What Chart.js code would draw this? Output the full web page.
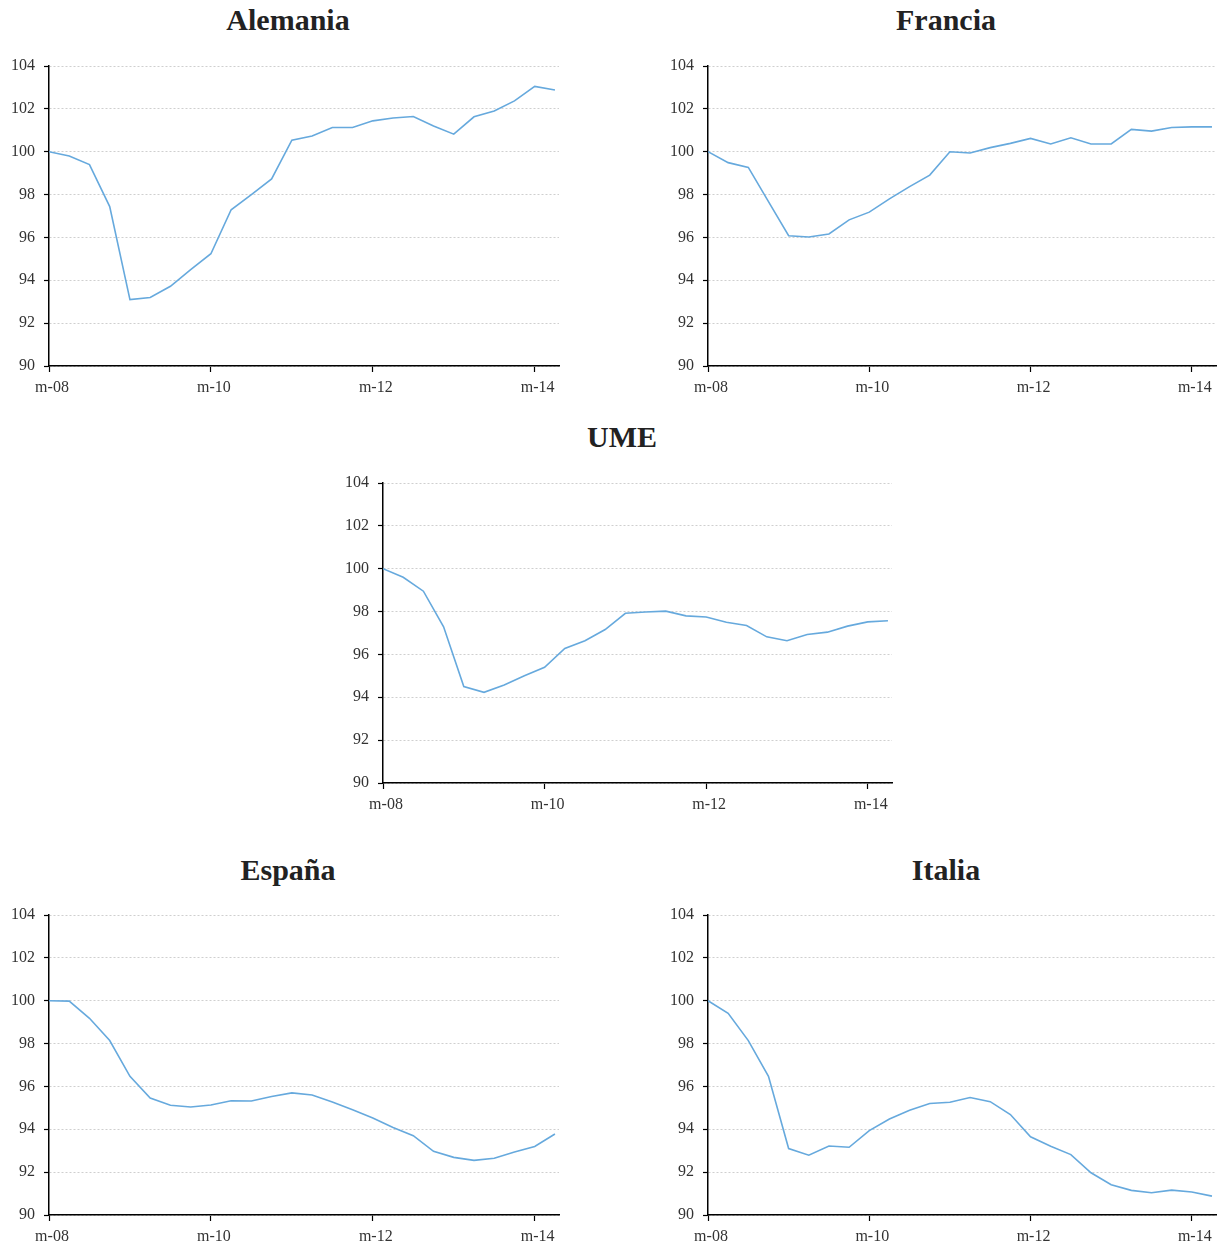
<!DOCTYPE html>
<html><head><meta charset="utf-8">
<script src="https://cdn.jsdelivr.net/npm/chart.js@4.4.1/dist/chart.umd.min.js"></script>
<style>
html,body{margin:0;padding:0;background:#fff;width:1218px;height:1245px;overflow:hidden;position:relative}
.title{position:absolute;font-family:'Liberation Serif',serif;font-weight:bold;font-size:30px;color:#222;transform:translate(-50%,-50%);white-space:nowrap;line-height:1}
.box{position:absolute}
</style></head><body>
<script>
// Quarterly periods (m = marzo, j = junio, s = septiembre, d = diciembre)
const quarters = ['m-08','j-08','s-08','d-08','m-09','j-09','s-09','d-09','m-10','j-10','s-10','d-10',
                  'm-11','j-11','s-11','d-11','m-12','j-12','s-12','d-12','m-13','j-13','s-13','d-13','m-14','j-14'];
const xTickLabels = ['m-08','m-10','m-12','m-14'];
const yTicks = [90,92,94,96,98,100,102,104];

const alemania = [100.0,99.8,99.4,97.44,93.1,93.2,93.72,94.5,95.24,97.29,98.0,98.73,100.54,100.73,101.13,101.13,
                  101.44,101.57,101.64,101.2,100.82,101.63,101.9,102.37,103.05,102.88];
const francia  = [100.0,99.49,99.27,97.67,96.08,96.02,96.16,96.82,97.18,97.8,98.37,98.91,100.0,99.94,100.19,100.39,
                  100.62,100.36,100.65,100.36,100.36,101.04,100.96,101.13,101.16,101.16];
const ume      = [100.0,99.6,98.95,97.29,94.5,94.23,94.57,95.0,95.4,96.28,96.64,97.16,97.92,97.98,98.02,97.8,
                  97.75,97.5,97.35,96.82,96.64,96.93,97.04,97.32,97.52,97.57];
const espana   = [100.0,99.98,99.18,98.14,96.47,95.46,95.12,95.04,95.13,95.33,95.32,95.53,95.7,95.6,95.27,94.91,
                  94.53,94.08,93.7,92.97,92.69,92.55,92.65,92.94,93.2,93.78];
const italia   = [100.0,99.41,98.14,96.47,93.1,92.79,93.22,93.16,93.94,94.48,94.89,95.2,95.26,95.48,95.29,94.69,
                  93.65,93.21,92.82,91.97,91.41,91.15,91.04,91.16,91.07,90.88];

const LINE = '#66a9dd';
const FONT = "'Liberation Serif', serif";

const panels = [
  {title:'Alemania', values:alemania, axisX:49,  top:66,  right:559,  tx:288, ty:20},
  {title:'Francia',  values:francia,  axisX:708, top:66,  right:1216, tx:946, ty:20},
  {title:'UME',      values:ume,      axisX:383, top:483, right:892,  tx:622, ty:437},
  {title:'España',   values:espana,   axisX:49,  top:915, right:559,  tx:288, ty:870},
  {title:'Italia',   values:italia,   axisX:708, top:915, right:1216, tx:946, ty:870}
];

function build(p){
  const padTop = 30, yW = 49, xH = 44, padRight = 2;
  const left = p.axisX - yW, top = p.top - padTop;
  const width = (p.right - p.axisX) + yW + padRight;
  const height = padTop + 300 + xH;

  const t = document.createElement('div');
  t.className = 'title'; t.textContent = p.title;
  t.style.left = p.tx + 'px'; t.style.top = p.ty + 'px';
  document.body.appendChild(t);

  const div = document.createElement('div'); div.className = 'box';
  div.style.left = left + 'px'; div.style.top = top + 'px';
  div.style.width = width + 'px'; div.style.height = height + 'px';
  const c = document.createElement('canvas'); div.appendChild(c); document.body.appendChild(div);

  const tickPos = xTickLabels.map(l => quarters.indexOf(l));

  new Chart(c, {
    type: 'line',
    data: {datasets: [{
      data: p.values.map((v, i) => ({x: i, y: v})),
      borderColor: LINE, borderWidth: 1.6, pointRadius: 0, tension: 0, fill: false
    }]},
    options: {
      responsive: true, maintainAspectRatio: false, animation: false,
      layout: {padding: {top: padTop, right: padRight, left: 0, bottom: 0}},
      plugins: {legend: {display: false}, tooltip: {enabled: false}, title: {display: false}},
      scales: {
        x: {
          type: 'linear', min: 0, max: quarters.length - 0.8,
          afterBuildTicks: s => { s.ticks = tickPos.map(v => ({value: v})); },
          afterFit: s => { s.height = xH; },
          ticks: {callback: v => quarters[v] ?? '', font: {family: FONT, size: 16}, color: '#333',
                  maxRotation: 0, autoSkip: false, padding: 6, labelOffset: 3},
          grid: {drawOnChartArea: false, drawTicks: true, tickLength: 6, tickColor: '#000', color: '#000', tickWidth: 1.2},
          border: {color: '#000', width: 1.5}
        },
        y: {
          min: yTicks[0], max: yTicks[yTicks.length - 1],
          afterBuildTicks: s => { s.ticks = yTicks.map(v => ({value: v})); },
          afterFit: s => { s.width = yW; },
          ticks: {font: {family: FONT, size: 16}, color: '#333', padding: 9},
          grid: {color: '#cfcfcf', lineWidth: 1, tickColor: '#000', tickLength: 5, tickWidth: 1.2},
          border: {color: '#000', width: 1.5, dash: [2, 2]}
        }
      }
    }
  });
}
panels.forEach(build);
</script>
</body></html>
